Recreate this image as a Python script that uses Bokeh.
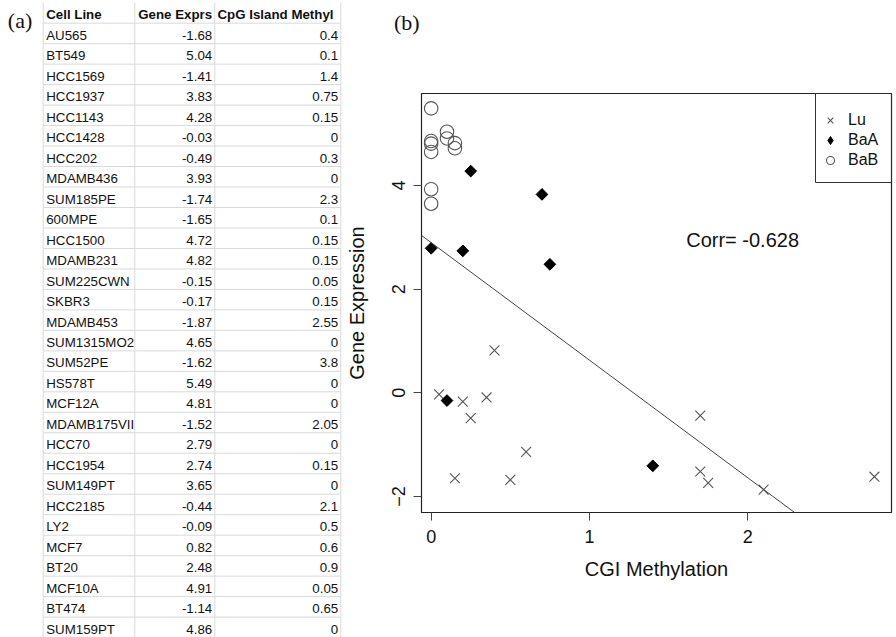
import math
from bokeh.plotting import figure
from bokeh.layouts import row
from bokeh.models import (Range1d, FixedTicker, Slope, Label, Legend, LegendItem,
                          BoxAnnotation, Title)
from bokeh.core.properties import value
from bokeh.embed import file_html
from bokeh.resources import INLINE

# ---------------- data: table (panel a) ----------------
TABLE_HEADERS = ["Cell Line", "Gene Exprs", "CpG Island Methyl"]
CELL_LINES = ["AU565", "BT549", "HCC1569", "HCC1937", "HCC1143", "HCC1428", "HCC202",
              "MDAMB436", "SUM185PE", "600MPE", "HCC1500", "MDAMB231", "SUM225CWN",
              "SKBR3", "MDAMB453", "SUM1315MO2", "SUM52PE", "HS578T", "MCF12A",
              "MDAMB175VII", "HCC70", "HCC1954", "SUM149PT", "HCC2185", "LY2", "MCF7",
              "BT20", "MCF10A", "BT474", "SUM159PT"]
GENE_EXPRS = [-1.68, 5.04, -1.41, 3.83, 4.28, -0.03, -0.49, 3.93, -1.74, -1.65, 4.72, 4.82,
              -0.15, -0.17, -1.87, 4.65, -1.62, 5.49, 4.81, -1.52, 2.79, 2.74, 3.65, -0.44,
              -0.09, 0.82, 2.48, 4.91, -1.14, 4.86]
CGI_METHYL = [0.4, 0.1, 1.4, 0.75, 0.15, 0, 0.3, 0, 2.3, 0.1, 0.15, 0.15, 0.05, 0.15, 2.55,
              0, 3.8, 0, 0, 2.05, 0, 0.15, 0, 2.1, 0.5, 0.6, 0.9, 0.05, 0.65, 0]

# ---------------- data: scatter (panel b) ----------------
LU_X = [0.05, 0.2, 0.25, 0.35, 0.4, 0.15, 0.5, 0.6, 1.7, 1.7, 1.75, 2.1, 2.8]
LU_Y = [-0.03, -0.17, -0.49, -0.09, 0.82, -1.65, -1.68, -1.14, -0.44, -1.52, -1.74, -1.87, -1.62]
BAA_X = [0.25, 0.7, 0, 0.2, 0.75, 0.1, 1.4]
BAA_Y = [4.28, 3.83, 2.79, 2.74, 2.48, -0.15, -1.41]
BAB_X = [0, 0.1, 0.1, 0, 0, 0, 0.15, 0.15, 0, 0]
BAB_Y = [5.49, 5.04, 4.91, 4.86, 4.81, 4.65, 4.82, 4.72, 3.93, 3.65]
GROUPS = ["Lu", "BaA", "BaB"]
FIT_INTERCEPT = 2.90
FIT_SLOPE = -2.27
CORR_TEXT = "Corr=  -0.628"
X_TICKS = [0, 1, 2]
Y_TICKS = [-2, 0, 2, 4]

SANS = "Liberation Sans"
SERIF = "Liberation Serif"

# ================= panel (a): table =================
W_TAB, H = 342, 637
tab = figure(width=W_TAB, height=H, x_range=Range1d(0, W_TAB), y_range=Range1d(H, 0),
             x_axis_location=None, y_axis_location=None, output_backend="svg",
             toolbar_location=None, min_border=0, min_border_left=0, min_border_right=0,
             min_border_top=0, min_border_bottom=0, outline_line_color=None)
tab.frame_align = False
tab.grid.visible = False

HEADER_TOP = 2.2
ROW_H = 20.48
COL_EDGES = [42.7, 134.3, 214.3, 340.3]
n = len(CELL_LINES)
body_top = HEADER_TOP + ROW_H
grid_col = "#d9d9d9"
# horizontal cell borders
hy = [body_top + ROW_H * k for k in range(n + 1)]
tab.segment(x0=[COL_EDGES[0]] * len(hy), x1=[COL_EDGES[-1]] * len(hy), y0=hy, y1=hy,
            line_color=grid_col, line_width=1)
# vertical cell borders
tab.segment(x0=COL_EDGES, x1=COL_EDGES, y0=[HEADER_TOP] * 4, y1=[H] * 4,
            line_color=grid_col, line_width=1)

txt_kw = dict(text_font=value(SANS), text_font_size="13.3px", text_color="#111111",
              text_baseline="middle")
CAP_MID = 12.1
# headers
tab.text(x=[45.7, 137.7, 217.0], y=[HEADER_TOP + CAP_MID] * 3, text=TABLE_HEADERS,
         text_align="left", text_font_style="bold", **txt_kw)
mids = [body_top + ROW_H * i + CAP_MID for i in range(n)]
tab.text(x=[45.7] * n, y=mids, text=CELL_LINES, text_align="left", **txt_kw)
tab.text(x=[211.7] * n, y=mids, text=["%.2f" % v for v in GENE_EXPRS], text_align="right", **txt_kw)
tab.text(x=[337.7] * n, y=mids, text=["%g" % v for v in CGI_METHYL], text_align="right", **txt_kw)
tab.text(x=[7.3], y=[20.3], text=["(a)"], text_font=value(SERIF), text_font_size="22px",
         text_color="#111111", text_baseline="middle", text_align="left")

# ================= panel (b): scatter =================
W_P = 896 - W_TAB
X0, X1 = -0.061, 2.908
Y0, Y1 = -2.311, 5.778
MB_L, MB_R, MB_T, MB_B = 79, 5, 93, 125
FW = W_P - MB_L - MB_R
FH = H - MB_T - MB_B
XS = FW / (X1 - X0)
YS = FH / (Y1 - Y0)

p = figure(width=W_P, height=H, x_range=Range1d(X0, X1), y_range=Range1d(Y0, Y1),
           output_backend="svg", toolbar_location=None, title=None,
           min_border_left=MB_L, min_border_right=MB_R, min_border_top=MB_T,
           min_border_bottom=MB_B)
p.frame_align = False
p.grid.visible = False
p.outline_line_color = "#222222"
p.outline_line_width = 1.2
p.background_fill_color = "white"
p.border_fill_color = "white"

# spacer title next to the frame, then the panel letter above it
p.add_layout(Title(text=" ", text_font=SANS, text_font_size="10px", standoff=36), "above")
p.add_layout(Title(text="(b)", text_font=SERIF, text_font_size="22px",
                   text_font_style="normal", text_color="#111111", align="left",
                   offset=393.5 - (W_TAB + MB_L), vertical_align="top", standoff=16),
             "above")

p.xaxis.ticker = FixedTicker(ticks=X_TICKS)
p.yaxis.ticker = FixedTicker(ticks=Y_TICKS)
for ax in (p.xaxis, p.yaxis):
    ax.axis_line_color = None
    ax.major_tick_line_color = "#444444"
    ax.major_tick_out = 8
    ax.major_tick_in = 0
    ax.minor_tick_line_color = None
    ax.major_label_text_font = SANS
    ax.major_label_text_font_size = "18px"
    ax.major_label_text_color = "#111111"
    ax.axis_label_text_font = SANS
    ax.axis_label_text_font_size = "20px"
    ax.axis_label_text_font_style = "normal"
    ax.axis_label_text_color = "#111111"
p.xaxis.axis_label = "CGI Methylation"
p.yaxis.axis_label = "Gene Expression"
p.xaxis.major_label_standoff = 9
p.xaxis.axis_label_standoff = 12
p.yaxis.major_label_standoff = 8
p.yaxis.axis_label_standoff = 22
p.yaxis.major_label_orientation = "vertical"

p.add_layout(Slope(gradient=FIT_SLOPE, y_intercept=FIT_INTERCEPT, line_color="#444444",
                   line_width=1))

lu = p.scatter(LU_X, LU_Y, marker="x", size=14, line_color="#555555", line_width=1.1)
# diamond renderer (used for the legend symbol), covered by the rotated squares
baa_leg = p.scatter(BAA_X, BAA_Y, marker="diamond", size=10, fill_color="black",
                    line_color="black")
baa = p.scatter(BAA_X, BAA_Y, marker="square", angle=math.pi / 4, size=8.3,
                fill_color="black", line_color="black")
bab = p.scatter(BAB_X, BAB_Y, marker="circle", size=13.5, fill_color=None,
                line_color="#555555", line_width=1.1)

legend = Legend(items=[LegendItem(label=GROUPS[0], renderers=[lu]),
                       LegendItem(label=GROUPS[1], renderers=[baa_leg]),
                       LegendItem(label=GROUPS[2], renderers=[bab])],
                location=(399, 342), padding=0, spacing=0, margin=0,
                glyph_width=20, glyph_height=20, label_height=20, label_standoff=8,
                border_line_color=None, background_fill_alpha=0,
                label_text_font=SANS, label_text_font_size="16px",
                label_text_color="#111111")
p.add_layout(legend)
p.add_layout(BoxAnnotation(left=X1 - 76 / XS, right=X1, bottom=Y1 - 89 / YS, top=Y1,
                           fill_alpha=0, line_color="#333333", line_width=1, line_alpha=1))

p.add_layout(Label(x=1.611, y=2.954, text=CORR_TEXT, text_baseline="middle",
                   text_align="left", text_font=SANS, text_font_size="20px",
                   text_color="#111111"))

layout = row(tab, p, spacing=0)
open("out.html", "w").write(file_html(layout, INLINE))
